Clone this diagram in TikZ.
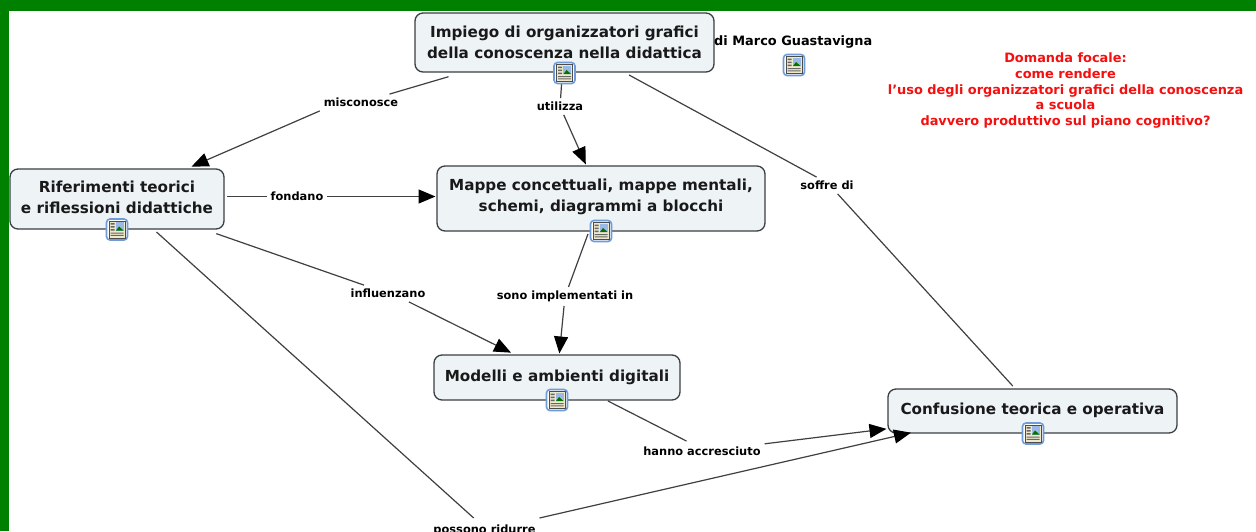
\documentclass[tikz,border=0pt]{standalone}
\usepackage{fontspec}
\setmainfont{DejaVu Sans}
\usetikzlibrary{arrows.meta}
\definecolor{framegreen}{HTML}{008000}
\definecolor{conceptfill}{HTML}{EEF3F6}
\definecolor{conceptline}{HTML}{3A3F44}
\definecolor{iconblue}{HTML}{6F9BD8}
\definecolor{iconpaper}{HTML}{EFE9CC}
\definecolor{focalred}{HTML}{F51010}
\tikzset{
  concept/.style={draw=conceptline,fill=conceptfill,line width=1.3pt,rounded corners=8pt,
    inner sep=0pt,outer sep=3pt,align=center,text depth=4.5pt,font=\bfseries\fontsize{15.2}{21}\selectfont,text=black!90},
  linklabel/.style={inner sep=0pt,outer sep=4pt,font=\bfseries\fontsize{11.4}{12}\selectfont,text=black},
  free/.style={inner sep=0pt,align=center,font=\bfseries\fontsize{12.9}{15.7}\selectfont},
  link/.style={draw=black!75,line width=1.2pt},
  arrowlink/.style={link,shorten >=-1.5pt,-{Triangle[length=17pt,width=14pt,color=black]}},
  infoicon/.pic={
    \draw[iconblue,line width=1.6pt,fill=white,rounded corners=3.5pt] (-10.5,-10.5) rectangle (10.5,10.5);
    \draw[black!70,line width=.8pt,fill=iconpaper] (-8,-8.5) rectangle (8,8.5);
    \fill[black!60] (-6.5,-6.5) rectangle (-2.5,-5) (-6.5,-3.5) rectangle (-2.5,-2) (-6.5,-.5) rectangle (-2.5,1);
    \fill[iconblue!70!white] (-1.5,-7.5) rectangle (6.5,1);
    \fill[green!45!black] (-1,1) -- (2,-3) -- (6.5,1) -- cycle;
    \fill[black!60] (-6.5,3) rectangle (6.5,4) (-6.5,5.4) rectangle (6.5,6.4);
  }
}
\begin{document}
\begin{tikzpicture}[x=1pt,y=-1pt]
\useasboundingbox (0,0) rectangle (1256,531);
\clip (0,0) rectangle (1256,531);
\fill[white] (0,0) rectangle (1256,531);
\fill[framegreen] (0,0) rectangle (1256,11);
\fill[framegreen] (0,0) rectangle (9,531);

\node[concept,text depth=1.5pt,minimum width=299pt,minimum height=59pt] (n1) at (564.5,42.5) {Impiego di organizzatori grafici\\della conoscenza nella didattica};
\node[concept,text depth=3.5pt,minimum width=214pt,minimum height=60pt] (n2) at (117,199) {Riferimenti teorici\\e riflessioni didattiche};
\node[concept,text depth=6.5pt,minimum width=328pt,minimum height=65pt] (n3) at (601,198.5) {Mappe concettuali, mappe mentali,\\schemi, diagrammi a blocchi};
\node[concept,minimum width=246pt,minimum height=45pt] (n4) at (557,377.5) {Modelli e ambienti digitali};
\node[concept,minimum width=289pt,minimum height=44pt] (n5) at (1032.5,411) {Confusione teorica e operativa};

\node[linklabel] (l1) at (361,102.5) {misconosce};
\node[linklabel] (l2) at (560,106.5) {utilizza};
\node[linklabel] (l3) at (297,196.5) {fondano};
\node[linklabel] (l4) at (827,185.5) {soffre di};
\node[linklabel] (l5) at (388,293.5) {influenzano};
\node[linklabel] (l6) at (565,296.5) {sono implementati in};
\node[linklabel] (l7) at (702,451.5) {hanno accresciuto};
\node[linklabel,outer sep=7pt] (l8) at (484.5,530.5) {possono ridurre};

\draw[link,shorten <=6pt] (n1) -- (l1);
\draw[arrowlink] (l1.south west) -- (n2);
\draw[link] (n1) -- (l2);
\draw[arrowlink] (l2) -- (n3);
\draw[link,transform canvas={xshift=5pt}] (n1) -- (l4);
\draw[link,transform canvas={xshift=3pt}] (l4) -- (n5);
\draw[link] (n2.east |- l3) -- (l3);
\draw[arrowlink] (l3) -- (n3.west |- l3);
\draw[link,shorten <=5pt] (n2) -- (l5);
\draw[arrowlink,transform canvas={xshift=4pt}] (l5) -- (n4);
\draw[link,transform canvas={xshift=3pt}] (n2) -- (l8);
\draw[arrowlink] ([xshift=-3pt]l8.north east) -- ([xshift=-123pt,yshift=3pt]n5.south);
\draw[link] (n3) -- (l6);
\draw[arrowlink] (l6) -- (n4);
\draw[link,transform canvas={xshift=1pt,yshift=2pt}] (n4) -- (l7);
\draw[arrowlink] (l7) -- (n5);

\node[free,anchor=west] (author) at (714,41.5) {di Marco Guastavigna};
\node[free,text=focalred] (focal) at (1065.5,90.5) {Domanda focale:\\come rendere\\l\symbol{39}uso degli organizzatori grafici della conoscenza\\a scuola\\davvero produttivo sul piano cognitivo?};

\pic at (564.5,73) {infoicon};
\pic at (117,229.5) {infoicon};
\pic at (601,231) {infoicon};
\pic at (557,400) {infoicon};
\pic at (1033,433.5) {infoicon};
\pic at (794,65) {infoicon};
\end{tikzpicture}
\end{document}
